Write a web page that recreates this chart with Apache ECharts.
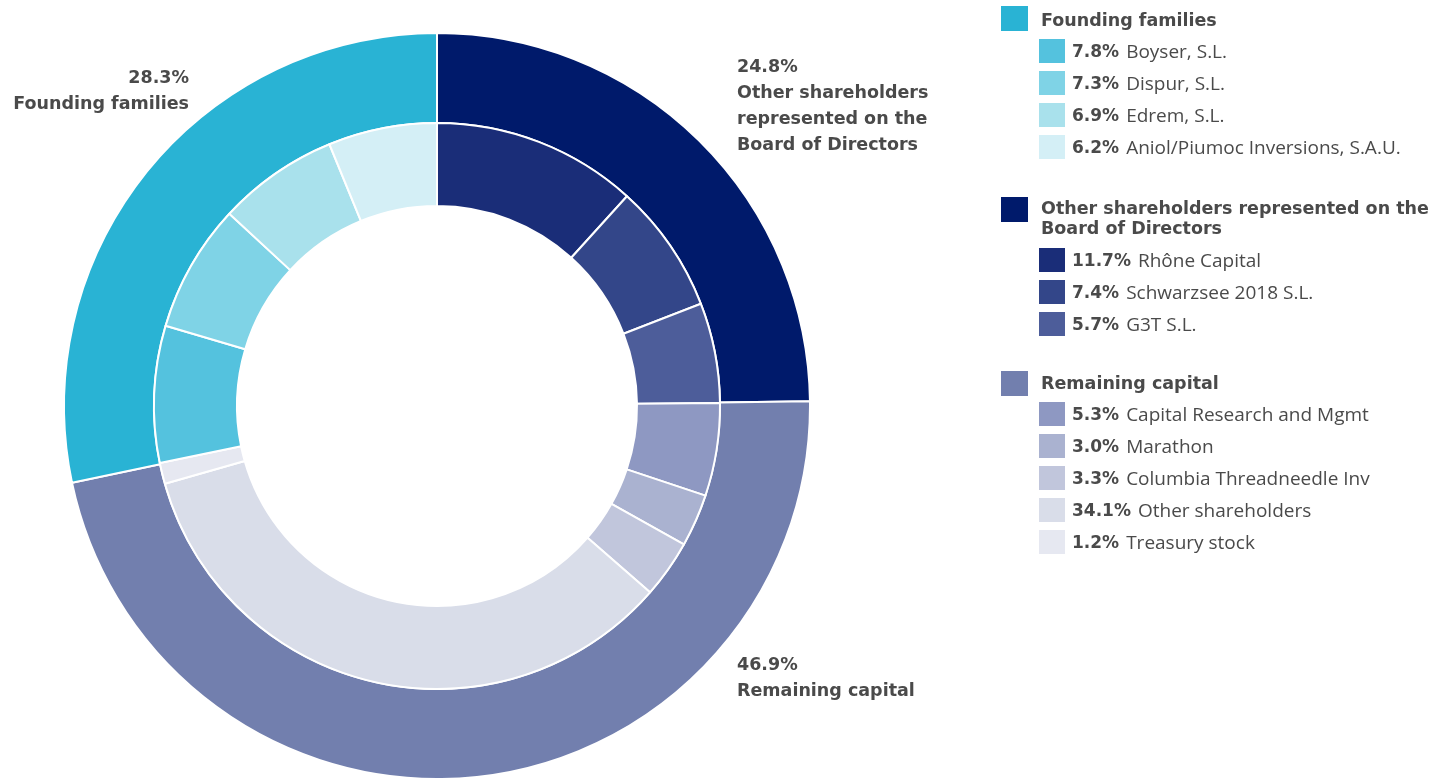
<!DOCTYPE html>
<html><head><meta charset="utf-8">
<script src="https://cdn.jsdelivr.net/npm/echarts@6/dist/echarts.min.js"></script>
<style>html,body{margin:0;padding:0;background:#fff}#c{width:1433px;height:780px}</style>
</head><body><div id="c"></div>
<script>
// ---- data ----
var groupNames = ['Other shareholders represented on the Board of Directors', 'Remaining capital', 'Founding families'];
var groupValues = [24.8, 46.9, 28.3];
var groupColors = ['#001a6b', '#727fae', '#29b3d4'];

var boardNames = ['Rhône Capital', 'Schwarzsee 2018 S.L.', 'G3T S.L.'];
var boardValues = [11.7, 7.4, 5.7];
var boardColors = ['#1a2d78', '#334689', '#4d5d9a'];

var remainingNames = ['Capital Research and Mgmt', 'Marathon', 'Columbia Threadneedle Inv', 'Other shareholders', 'Treasury stock'];
var remainingValues = [5.3, 3.0, 3.3, 34.1, 1.2];
var remainingColors = ['#8e98c2', '#aab2d0', '#c1c6dc', '#d9dde9', '#e6e8f1'];

var foundingNames = ['Boyser, S.L.', 'Dispur, S.L.', 'Edrem, S.L.', 'Aniol/Piumoc Inversions, S.A.U.'];
var foundingValues = [7.8, 7.3, 6.9, 6.2];
var foundingColors = ['#54c2de', '#7fd3e6', '#a9e1ec', '#d4eff6'];

// ---- build ----
var TXT = '#4a4a4a';
var BFAM = '"DejaVu Sans"';
var RFAM = '"Open Sans"';
function mk(names, vals, cols) {
  return names.map(function (n, i) { return { name: n, value: vals[i], itemStyle: { color: cols[i] } }; });
}
var outerData = mk(groupNames, groupValues, groupColors);
var innerData = [].concat(mk(boardNames, boardValues, boardColors),
                          mk(remainingNames, remainingValues, remainingColors),
                          mk(foundingNames, foundingValues, foundingColors));

var graphics = [];
function boldStyle(extra) {
  var s = { fontFamily: BFAM, fontWeight: 'bold', fontSize: 17.5, fill: TXT };
  for (var k in extra) s[k] = extra[k];
  return s;
}
// ring labels
function ringLabel(idx, x, y, align, title) {
  graphics.push({ type: 'text', x: x, y: y, style: boldStyle({
    text: groupValues[idx].toFixed(1) + '%\n' + title,
    align: align, verticalAlign: 'top', lineHeight: 26 }) });
}
ringLabel(2, 189, 65, 'right', 'Founding families');
ringLabel(0, 737, 54, 'left', 'Other shareholders\nrepresented on the\nBoard of Directors');
ringLabel(1, 737, 652, 'left', 'Remaining capital');

// legend
var legendGroups = [
  { gi: 2, title: 'Founding families', top: 6, textTop: 11, names: foundingNames, vals: foundingValues, cols: foundingColors, subTop: 39 },
  { gi: 0, title: 'Other shareholders represented on the\nBoard of Directors', top: 197, textTop: 199, names: boardNames, vals: boardValues, cols: boardColors, subTop: 248 },
  { gi: 1, title: 'Remaining capital', top: 371, textTop: 374, names: remainingNames, vals: remainingValues, cols: remainingColors, subTop: 402 }
];
legendGroups.forEach(function (g) {
  graphics.push({ type: 'rect', shape: { x: 1001, y: g.top, width: 27, height: 25 }, style: { fill: groupColors[g.gi] } });
  graphics.push({ type: 'text', x: 1041, y: g.textTop, style: boldStyle({ text: g.title, verticalAlign: 'top', lineHeight: 20 }) });
  g.names.forEach(function (n, i) {
    var y = g.subTop + i * 32;
    graphics.push({ type: 'rect', shape: { x: 1039, y: y, width: 26, height: 24 }, style: { fill: g.cols[i] } });
    graphics.push({ type: 'text', x: 1072, y: y + 14, style: {
      text: '{b|' + g.vals[i].toFixed(1) + '%}{n|' + n + '}',
      verticalAlign: 'middle',
      rich: {
        b: { fontFamily: BFAM, fontWeight: 'bold', fontSize: 17, fill: TXT, padding: [0, 7, 0, 0] },
        n: { fontFamily: RFAM, fontWeight: 'normal', fontSize: 19, fill: TXT }
      } } });
  });
});

var chart = echarts.init(document.getElementById('c'));
chart.setOption({
  animation: false,
  series: [
    { type: 'pie', center: [437, 406], radius: [283, 373], startAngle: 90, clockwise: true,
      label: { show: false }, labelLine: { show: false }, silent: true,
      itemStyle: { borderColor: '#fff', borderWidth: 2 }, data: outerData },
    { type: 'pie', center: [437, 406], radius: [200, 283], startAngle: 90, clockwise: true,
      label: { show: false }, labelLine: { show: false }, silent: true,
      itemStyle: { borderColor: '#fff', borderWidth: 2 }, data: innerData }
  ],
  graphic: graphics
});
</script></body></html>
